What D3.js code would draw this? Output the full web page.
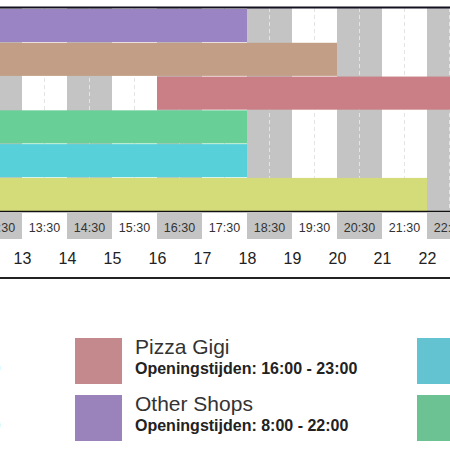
<!DOCTYPE html>
<html>
<head>
<meta charset="utf-8">
<script src="https://cdn.jsdelivr.net/npm/d3@7"></script>
<style>
  html, body { margin: 0; padding: 0; background: #fff; }
  svg { display: block; font-family: "Liberation Sans", Arial, sans-serif; }
</style>
</head>
<body>
<div id="chart"></div>
<script>
// rows top to bottom, opening hours as shown by the bars
const rows = ['Other Shops', 'Shop B', 'Pizza Gigi', 'Shop D', 'Shop E', 'Shop F'];
const barStart = [8, 9, 16, 9, 9, 9];
const barEnd = [18, 20, 23, 18, 18, 22];
const barColors = ['#9b84c4', '#c19e85', '#c97f85', '#68cf96', '#58d0da', '#d4dc7a'];

// hour columns in view and tick labels
const hours = [12, 13, 14, 15, 16, 17, 18, 19, 20, 21, 22];
const hourTicks = [13, 14, 15, 16, 17, 18, 19, 20, 21, 22];

// legend (three columns, two rows; outer columns mostly fall outside the view)
const legendNames = ['Shop F', 'Shop B', 'Pizza Gigi', 'Other Shops', 'Shop E', 'Shop D'];
const legendTimes = ['9:00 - 18:00', '9:00 - 18:00', '16:00 - 23:00', '8:00 - 22:00', '9:00 - 18:00', '9:00 - 18:00'];
const legendColors = ['#d3d981', '#c29f88', '#c4898c', '#9a82bb', '#63c3d0', '#6dc293'];

const width = 450, height = 450;
const svg = d3.select('#chart').append('svg')
  .attr('width', width)
  .attr('height', height);

const x = d3.scaleLinear().domain([13, 22]).range([22, 427]);
const y = d3.scaleBand().domain(rows).range([9, 211]).paddingInner(0.02);
const plotTop = 8, plotBottom = 211;

// alternating hour columns
svg.append('g').selectAll('rect')
  .data(hours)
  .join('rect')
  .attr('x', (d) => x(d))
  .attr('y', plotTop)
  .attr('width', x(1) - x(0))
  .attr('height', plotBottom - plotTop)
  .attr('fill', (d) => (d % 2 === 0 ? '#c4c4c4' : '#fff'));

// half-hour dashed guides
svg.append('g').selectAll('line')
  .data(hours)
  .join('line')
  .attr('x1', (d) => x(d + 0.5))
  .attr('x2', (d) => x(d + 0.5))
  .attr('y1', plotTop)
  .attr('y2', plotBottom)
  .attr('stroke', '#e4e4e4')
  .attr('stroke-width', 1)
  .attr('stroke-dasharray', '4,3');

// bars
svg.append('g').selectAll('rect')
  .data(rows)
  .join('rect')
  .attr('x', (d, i) => x(barStart[i]))
  .attr('y', (d) => y(d))
  .attr('width', (d, i) => x(barEnd[i]) - x(barStart[i]))
  .attr('height', y.bandwidth())
  .attr('fill', (d, i) => barColors[i]);

// frame lines
svg.append('line').attr('x1', 0).attr('x2', width).attr('y1', 7.5).attr('y2', 7.5)
  .attr('stroke', '#151020').attr('stroke-width', 2);
svg.append('line').attr('x1', 0).attr('x2', width).attr('y1', 211.5).attr('y2', 211.5)
  .attr('stroke', '#111').attr('stroke-width', 1.5);

// half-hour label row
const halfRow = svg.append('g');
halfRow.selectAll('rect')
  .data(hours)
  .join('rect')
  .attr('x', (d) => x(d))
  .attr('y', 213)
  .attr('width', x(1) - x(0))
  .attr('height', 26)
  .attr('fill', (d) => (d % 2 === 0 ? '#c4c4c4' : '#fff'));
halfRow.selectAll('text')
  .data(hours)
  .join('text')
  .attr('x', (d) => x(d + 0.5))
  .attr('y', 232)
  .attr('text-anchor', 'middle')
  .attr('font-size', 12.5)
  .attr('fill', '#333')
  .text((d) => `${d}:30`);

// hour axis
const axis = svg.append('g')
  .attr('transform', 'translate(0,246)')
  .call(d3.axisBottom(x).tickValues(hourTicks).tickSize(0).tickPadding(0).tickFormat(d3.format('d')));
axis.select('.domain').remove();
axis.selectAll('text')
  .attr('font-size', 16)
  .attr('font-family', '"Liberation Sans", Arial, sans-serif')
  .attr('fill', '#222')
  .attr('dy', '1.1em');

svg.append('line').attr('x1', 0).attr('x2', width).attr('y1', 278).attr('y2', 278)
  .attr('stroke', '#222').attr('stroke-width', 2);

// legend
const legendX = [-273, 75, 417];
const legendY = [338, 395];
const legend = svg.append('g').selectAll('g')
  .data(legendNames)
  .join('g')
  .attr('transform', (d, i) => `translate(${legendX[Math.floor(i / 2)]},${legendY[i % 2]})`);
legend.append('rect')
  .attr('width', 47)
  .attr('height', 46)
  .attr('fill', (d, i) => legendColors[i]);
legend.filter((d, i) => Math.floor(i / 2) === 1).append('text')
  .attr('x', 60)
  .attr('y', 16)
  .attr('font-size', 21)
  .attr('fill', '#333')
  .text((d) => d);
legend.filter((d, i) => Math.floor(i / 2) < 2).append('text')
  .attr('x', 60)
  .attr('y', 36)
  .attr('font-size', 16)
  .attr('font-weight', 'bold')
  .attr('fill', '#222')
  .text((d) => `Openingstijden: ${legendTimes[legendNames.indexOf(d)]}`);
</script>
</body>
</html>
